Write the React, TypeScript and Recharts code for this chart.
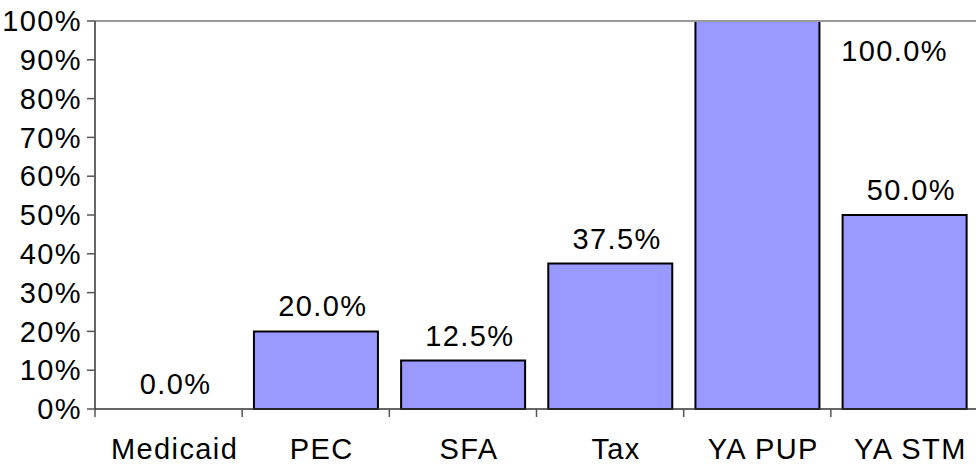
import { ComposedChart, Bar, Line, XAxis, YAxis, ReferenceLine, LabelList } from 'recharts'

// programme names and share of cases
const programs = ['Medicaid', 'PEC', 'SFA', 'Tax', 'YA PUP', 'YA STM']
const shares = [0, 0.2, 0.125, 0.375, 1.0, 0.5]
const yTicks = [0, 0.1, 0.2, 0.3, 0.4, 0.5, 0.6, 0.7, 0.8, 0.9, 1]

const data = programs.map((name, i) => ({ name, value: shares[i] }))

const FONT = 'Liberation Sans, Arial, sans-serif'
const SPACING = 1.4
const TICK_SIZE = 8
const TICK_MARGIN = 21

// value label: above the bar, or beside it when the bar fills the plot
const ValueLabel = (props: any) => {
  const { x, y, value } = props
  if (value == null) return null
  const text = (value * 100).toFixed(1) + '%'
  if (value >= 1) {
    return (
      <text x={x + 84} y={y + 40} fontSize={29} fontFamily={FONT} letterSpacing={SPACING} fill="#000" textAnchor="start">
        {text}
      </text>
    )
  }
  return (
    <text x={x + 7} y={y - 15} fontSize={29} fontFamily={FONT} letterSpacing={SPACING} fill="#000" textAnchor="middle">
      {text}
    </text>
  )
}

// category label plus tick marks on the category boundaries
const CategoryTick = (props: any) => {
  const { x, y, payload, index } = props
  const half = payload.offset || 0
  const axisY = y - TICK_SIZE - TICK_MARGIN
  const isLast = index === programs.length - 1
  return (
    <g>
      <line x1={x - half} x2={x - half} y1={axisY} y2={axisY + TICK_SIZE} stroke="#555" strokeWidth={1.5} />
      {isLast && (
        <line x1={x + half} x2={x + half} y1={axisY} y2={axisY + TICK_SIZE} stroke="#555" strokeWidth={1.5} />
      )}
      <text x={x + 6} y={y} dy="0.71em" fontSize={29} fontFamily={FONT} letterSpacing={SPACING} fill="#000" textAnchor="middle">
        {payload.value}
      </text>
    </g>
  )
}

export default function App() {
  return (
    <div style={{ position: 'absolute', left: 0, top: 0, width: 976, height: 465, overflow: 'hidden', background: '#fff' }}>
      <ComposedChart
        width={980}
        height={465}
        data={data}
        margin={{ top: 21, right: 2, bottom: 0, left: 0 }}
        barCategoryGap="8%"
      >
        <XAxis
          dataKey="name"
          height={56}
          tickLine={false}
          tickSize={TICK_SIZE}
          tickMargin={TICK_MARGIN}
          axisLine={{ stroke: '#333', strokeWidth: 1.5 }}
          tick={CategoryTick}
          interval={0}
        />
        <YAxis
          domain={[0, 1]}
          ticks={yTicks}
          width={95}
          tickSize={8}
          tickMargin={5}
          tickFormatter={(v: number) => `${Math.round(v * 100)}%`}
          axisLine={{ stroke: '#333', strokeWidth: 1.5 }}
          tickLine={{ stroke: '#555', strokeWidth: 1.5 }}
          tick={{ fontSize: 29, fontFamily: FONT, fill: '#000', letterSpacing: SPACING }}
          interval={0}
        />
        <ReferenceLine y={1} stroke="#999" strokeWidth={2} />
        <Bar
          dataKey="value"
          fill="#9999FF"
          stroke="#000"
          strokeWidth={2}
          isAnimationActive={false}
        />
        <Line
          dataKey="value"
          stroke="none"
          dot={false}
          activeDot={false}
          isAnimationActive={false}
        >
          <LabelList dataKey="value" content={ValueLabel} />
        </Line>
      </ComposedChart>
    </div>
  )
}
